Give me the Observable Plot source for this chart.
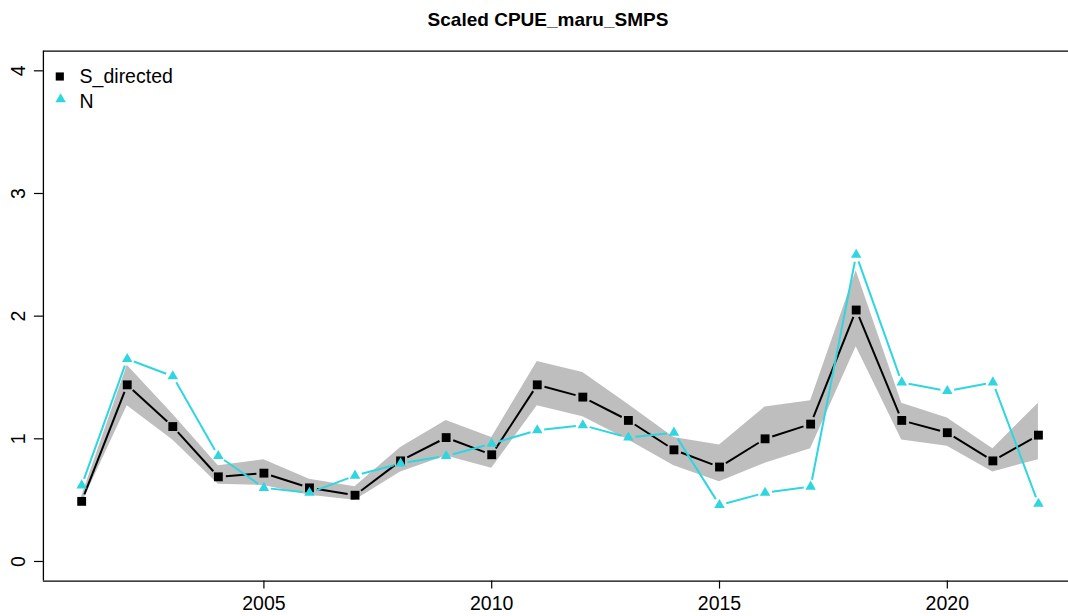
<!DOCTYPE html>
<html>
<head>
<meta charset="utf-8">
<script src="https://cdn.jsdelivr.net/npm/d3@7"></script>
<script src="https://cdn.jsdelivr.net/npm/@observablehq/plot@0.6"></script>
<style>
  html, body { margin: 0; padding: 0; background: #fff; overflow: hidden; }
  #title { width: 1068px; height: 38px; text-align: center; position: relative;
           font: bold 19px "Liberation Sans", Arial, sans-serif; color: #000; }
  #title span { position: absolute; left: 548px; top: 19px; transform: translate(-50%, -50%); white-space: nowrap; line-height: 1; }
</style>
</head>
<body>
<div id="title"><span>Scaled CPUE_maru_SMPS</span></div>
<div id="chart"></div>
<script>
// ---- data ----
const years = [2001,2002,2003,2004,2005,2006,2007,2008,2009,2010,2011,2012,2013,2014,2015,2016,2017,2018,2019,2020,2021,2022];
const sDirected = [0.49,1.44,1.10,0.69,0.72,0.60,0.54,0.82,1.01,0.87,1.44,1.34,1.15,0.91,0.77,1.00,1.12,2.05,1.15,1.05,0.82,1.03];
const sLower    = [0.47,1.27,0.99,0.63,0.62,0.54,0.50,0.73,0.86,0.76,1.27,1.18,0.99,0.78,0.65,0.80,0.92,1.75,0.99,0.94,0.73,0.83];
const sUpper    = [0.53,1.60,1.20,0.78,0.83,0.67,0.61,0.93,1.15,1.01,1.63,1.54,1.28,1.01,0.95,1.26,1.31,2.37,1.29,1.17,0.92,1.29];
const nSeries   = [0.62,1.65,1.51,0.86,0.60,0.56,0.70,0.80,0.86,0.96,1.07,1.11,1.01,1.05,0.46,0.56,0.61,2.50,1.46,1.39,1.46,0.47];
const yTicks = [0, 1, 2, 3, 4];
const xTicks = [2005, 2010, 2015, 2020];
const legendLabels = ["S_directed", "N"];

const CYAN = "#2fd6df";
const FONT = '"Liberation Sans", Arial, sans-serif';

const rows = years.map((year, i) => ({year, s: sDirected[i], lo: sLower[i], hi: sUpper[i], n: nSeries[i]}));
const segS = d3.pairs(rows).map(([a, b]) => ({x1: a.year, y1: a.s, x2: b.year, y2: b.s}));
const segN = d3.pairs(rows).map(([a, b]) => ({x1: a.year, y1: a.n, x2: b.year, y2: b.n}));

const xDomain = [2000.16, 2022.66];
const yDomain = [-0.16, 4.16];

const chart = Plot.plot({
  width: 1068,
  height: 578,
  marginLeft: 42.9,
  marginRight: 0,
  marginTop: 12.7,
  marginBottom: 35.4,
  style: {fontFamily: FONT, background: "#fff", color: "#000"},
  x: {domain: xDomain, axis: null},
  y: {domain: yDomain, axis: null},
  marks: [
    // confidence band
    Plot.areaY(rows, {x: "year", y1: "lo", y2: "hi", fill: "#bebebe", curve: "linear"}),
    // S_directed line with gaps around points
    Plot.arrow(segS, {x1: "x1", y1: "y1", x2: "x2", y2: "y2", headLength: 0, inset: 7.5,
      stroke: "#000", strokeWidth: 2, strokeLinecap: "butt"}),
    Plot.dot(rows, {x: "year", y: "s", symbol: "square", r: 5.0, fill: "#000", stroke: null}),
    // N line with gaps around points
    Plot.arrow(segN, {x1: "x1", y1: "y1", x2: "x2", y2: "y2", headLength: 0, inset: 7,
      stroke: CYAN, strokeWidth: 2, strokeLinecap: "butt"}),
    Plot.dot(rows, {x: "year", y: "n", symbol: "triangle", r: 3.9, fill: CYAN, stroke: null}),
    // box (left, top, bottom)
    Plot.ruleX([xDomain[0]], {stroke: "#000", strokeWidth: 1.3}),
    Plot.ruleY([yDomain[0], yDomain[1]], {stroke: "#000", strokeWidth: 1.3}),
    // y axis ticks (labels drawn rotated below)
    Plot.axisY({ticks: yTicks, tickSize: 9, tickFormat: () => "", stroke: "#000", strokeWidth: 1.2}),
    Plot.text(yTicks, {y: d => d, text: d => String(d), frameAnchor: "left", dx: -25, rotate: -90,
      textAnchor: "middle", lineAnchor: "middle", fontSize: 19.5, fill: "#000"}),
    // x axis
    Plot.axisX({ticks: xTicks, tickSize: 8, tickPadding: 7.5, tickFormat: d => String(d),
      fontSize: 19.5, stroke: "#000", fill: "#000", strokeWidth: 1.2}),
    // legend
    Plot.dot([legendLabels[0]], {frameAnchor: "top-left", dx: 16.4, dy: 25.3, symbol: "square", r: 4.6, fill: "#000", stroke: null}),
    Plot.dot([legendLabels[1]], {frameAnchor: "top-left", dx: 17.2, dy: 48.0, symbol: "triangle", r: 3.9, fill: CYAN, stroke: null}),
    Plot.text([legendLabels[0]], {frameAnchor: "top-left", dx: 36.2, dy: 25.3, text: d => d,
      textAnchor: "start", lineAnchor: "middle", fontSize: 19.5, fill: "#000"}),
    Plot.text([legendLabels[1]], {frameAnchor: "top-left", dx: 36.2, dy: 50.3, text: d => d,
      textAnchor: "start", lineAnchor: "middle", fontSize: 19.5, fill: "#000"})
  ]
});
document.getElementById("chart").appendChild(chart);
</script>
</body>
</html>
